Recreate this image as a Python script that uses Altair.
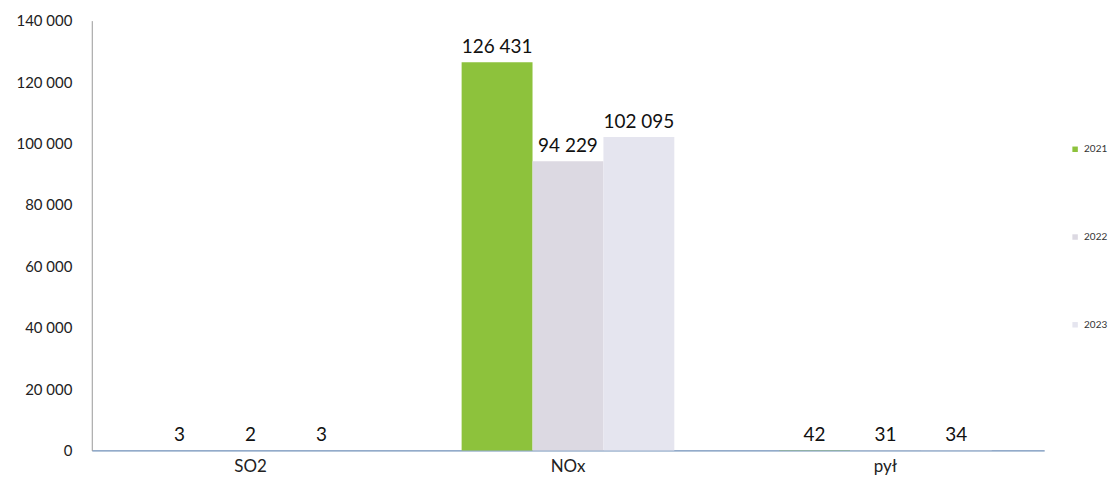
import altair as alt
import pandas as pd

categories = ["SO2", "NOx", "pył"]
years = ["2021", "2022", "2023"]
values_2021 = [3, 126431, 42]
values_2022 = [2, 94229, 31]
values_2023 = [3, 102095, 34]
y_ticks = [0, 20000, 40000, 60000, 80000, 100000, 120000, 140000]
colors = ["#8dc23c", "#dcd9e2", "#e5e5ef"]

rows = []
for yr, vals in zip(years, [values_2021, values_2022, values_2023]):
    for c, v in zip(categories, vals):
        rows.append({"kategoria": c, "rok": yr, "wartosc": v})
df = pd.DataFrame(rows)

FONT = "Lato"

x = alt.X("kategoria:N", sort=categories, title=None,
          scale=alt.Scale(paddingInner=0.33, paddingOuter=0.165),
          axis=alt.Axis(labelAngle=0, labelFontSize=17, labelColor="#222222",
                        labelPadding=8, ticks=False, domainColor="#6f8fb8",
                        domainWidth=1.2, labelFont=FONT))
xoff = alt.XOffset("rok:N", sort=years, scale=alt.Scale(paddingInner=0, paddingOuter=0))
y = alt.Y("wartosc:Q", title=None,
          scale=alt.Scale(domain=[0, 140000], nice=False),
          axis=alt.Axis(values=y_ticks, format=",d", grid=False, ticks=False,
                        labelFontSize=15, labelColor="#222222", labelPadding=20,
                        domainColor="#9a9a9a", labelFont=FONT))

base = alt.Chart(df)

bars = base.mark_bar().encode(
    x=x, xOffset=xoff, y=y,
    color=alt.Color("rok:N", sort=years, title=None,
                    scale=alt.Scale(domain=years, range=colors),
                    legend=alt.Legend(orient="none", legendX=981, legendY=124,
                                      symbolType="square", symbolSize=30,
                                      symbolStrokeWidth=0, labelLimit=60,
                                      labelFontSize=10, labelFont=FONT,
                                      labelColor="#333333", rowPadding=78)),
)

labels = base.mark_text(baseline="bottom", dy=-5, fontSize=19, font=FONT,
                        color="#111111").encode(
    x=x, xOffset=xoff, y=y,
    text=alt.Text("wartosc:Q", format=",d"),
)

chart = (bars + labels).properties(
    width=955, height=431,
    autosize=alt.AutoSizeParams(type="none"),
    padding={"left": 84, "top": 12, "right": 68, "bottom": 40},
).configure(
    locale=alt.Locale(number=alt.NumberLocale(decimal=",", thousands=" ",
                                              grouping=[3], currency=["", ""]))
).configure_view(stroke=None)

chart.save("out.html", embed_options={"renderer": "svg", "actions": False})
